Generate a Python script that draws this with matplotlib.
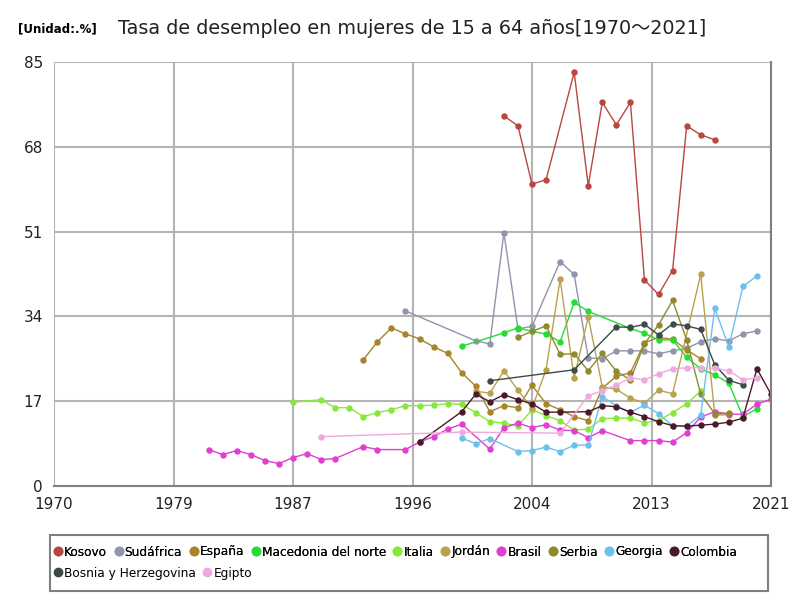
import matplotlib
matplotlib.use("Agg")
import matplotlib.pyplot as plt
from matplotlib.patches import Rectangle
from matplotlib.lines import Line2D

# ---- data ----
kosovo_years = [2002, 2003, 2004, 2005, 2007, 2008, 2009, 2010, 2011, 2012, 2013, 2014, 2015, 2016, 2017]
kosovo_vals = [74.2, 72.2, 60.5, 61.4, 82.9, 60.2, 76.9, 72.4, 76.9, 41.3, 38.4, 43.2, 72.2, 70.4, 69.4]

sudafrica_years = [1995, 2000, 2001, 2002, 2003, 2004, 2006, 2007, 2008, 2009, 2010, 2011, 2012, 2013,
                   2014, 2015, 2016, 2017, 2018, 2019, 2020]
sudafrica_vals = [35.1, 29.1, 28.5, 50.8, 31.5, 32.0, 45.0, 42.4, 25.7, 25.5, 27.1, 27.1, 27.1, 26.5,
                  27.1, 27.6, 28.9, 29.5, 29.1, 30.5, 31.1]

espana_years = list(range(1992, 2017))
espana_vals = [25.3, 28.9, 31.7, 30.5, 29.5, 27.9, 26.6, 22.7, 20.0, 14.9, 16.1, 15.7, 20.2, 16.5,
               15.3, 13.9, 13.1, 19.6, 22.0, 22.7, 28.7, 29.8, 29.4, 27.3, 25.5]

macedonia_years = [1999, 2002, 2003, 2004, 2005, 2006, 2007, 2008, 2011, 2012, 2013, 2014, 2015, 2016,
                   2017, 2018, 2019, 2020]
macedonia_vals = [28.0, 30.7, 31.7, 31.0, 30.5, 28.9, 36.8, 35.0, 31.6, 30.6, 29.3, 29.3, 25.8, 23.5,
                  22.3, 20.6, 13.9, 15.5]

italia_years = [1987] + list(range(1989, 2017))
italia_vals = [16.8, 17.3, 15.7, 15.7, 13.9, 14.7, 15.3, 16.1, 16.1, 16.2, 16.5, 16.4, 14.7, 12.9,
               12.6, 12.0, 15.3, 14.1, 13.1, 11.2, 11.4, 13.5, 13.6, 13.6, 12.7, 13.1, 14.7, 16.5, 19.0]

jordan_years = [2000, 2001, 2002, 2003, 2004, 2005, 2006, 2007, 2008, 2009, 2010, 2011, 2012, 2013,
                2014, 2016, 2017, 2018]
jordan_vals = [19.0, 18.6, 23.1, 19.2, 15.6, 23.3, 41.4, 21.7, 33.9, 19.9, 19.4, 17.6, 16.6, 19.2,
               18.5, 42.4, 14.2, 14.3]

brasil_years = [1981, 1982, 1983, 1984, 1985, 1986, 1987, 1988, 1989, 1990, 1992, 1993, 1995, 1996,
                1997, 1998, 1999, 2001, 2002, 2003, 2004, 2005, 2006, 2007, 2008, 2009, 2011, 2012,
                2013, 2014, 2015, 2016, 2017, 2018, 2019, 2020, 2021]
brasil_vals = [7.3, 6.3, 7.1, 6.3, 5.1, 4.5, 5.7, 6.5, 5.3, 5.5, 7.9, 7.3, 7.3, 8.8,
               9.9, 11.4, 12.4, 7.4, 11.7, 12.6, 11.7, 12.3, 11.2, 11.1, 9.7, 11.1, 9.1, 9.1,
               9.1, 8.8, 10.7, 13.8, 14.9, 14.4, 14.4, 16.4, 17.4]

serbia_years = list(range(2003, 2019))
serbia_vals = [29.8, 31.0, 32.1, 26.4, 26.5, 23.1, 26.6, 23.0, 21.3, 28.5, 32.3, 37.2, 29.3, 18.4,
               14.5, 14.6]

georgia_years = [1999, 2000, 2001, 2003, 2004, 2005, 2006, 2007, 2008, 2009, 2010, 2011, 2012, 2013,
                 2014, 2015, 2016, 2017, 2018, 2019, 2020]
georgia_vals = [9.6, 8.5, 9.5, 6.9, 7.1, 7.8, 6.9, 8.2, 8.2, 17.9, 16.1, 14.8, 16.2, 14.5,
                12.1, 12.0, 14.2, 35.6, 27.9, 40.0, 42.1]

colombia_years = [1996, 1999, 2000, 2001, 2002, 2003, 2004, 2005, 2006, 2008, 2009, 2010, 2011, 2012,
                  2013, 2014, 2015, 2016, 2017, 2018, 2019, 2020, 2021]
colombia_vals = [8.8, 14.9, 18.4, 16.9, 18.3, 17.3, 16.5, 14.8, 14.8, 14.9, 16.1, 15.9, 14.8, 13.9,
                 12.9, 12.1, 12.0, 12.2, 12.4, 12.8, 13.6, 23.5, 18.4]

bosnia_years = [2001, 2007, 2010, 2011, 2012, 2013, 2014, 2015, 2016, 2017, 2018, 2019]
bosnia_vals = [21.1, 23.3, 31.9, 31.8, 32.4, 30.3, 32.5, 32.1, 31.4, 24.3, 21.2, 20.3]

egipto_years = [1989, 1999, 2006, 2008, 2009, 2010, 2011, 2012, 2013, 2014, 2015, 2016, 2017, 2018,
                2019, 2020]
egipto_vals = [9.9, 10.8, 10.6, 18.1, 19.1, 20.2, 21.7, 21.3, 22.5, 23.5, 23.7, 23.7, 23.6, 23.1,
               21.3, 21.7]

series = [
    ("Kosovo", kosovo_years, kosovo_vals, "#b9473f"),
    ("Sudáfrica", sudafrica_years, sudafrica_vals, "#8f95aa"),
    ("España", espana_years, espana_vals, "#a8842a"),
    ("Macedonia del norte", macedonia_years, macedonia_vals, "#22dd33"),
    ("Italia", italia_years, italia_vals, "#88e83a"),
    ("Jordán", jordan_years, jordan_vals, "#b9a24c"),
    ("Brasil", brasil_years, brasil_vals, "#e03fd0"),
    ("Serbia", serbia_years, serbia_vals, "#8f8a30"),
    ("Georgia", georgia_years, georgia_vals, "#6cc0ee"),
    ("Colombia", colombia_years, colombia_vals, "#4a1a28"),
    ("Bosnia y Herzegovina", bosnia_years, bosnia_vals, "#3e4a48"),
    ("Egipto", egipto_years, egipto_vals, "#eeaadd"),
]

xtick_pos = [1970, 1978.5, 1987, 1995.5, 2004, 2012.5, 2021]
xtick_labels = ["1970", "1979", "1987", "1996", "2004", "2013", "2021"]
ytick_pos = [0, 17, 34, 51, 68, 85]

plt.rcParams['font.family'] = ['DejaVu Sans', 'Noto Sans CJK JP']

fig = plt.figure(figsize=(8, 6), dpi=100)
ax = fig.add_axes([54 / 800, 1 - 486 / 600, (771 - 54) / 800, (486 - 62) / 600])

handles = []
for name, xs, ys, col in series:
    ax.plot(xs, ys, color=col, lw=1.0, marker='o', ms=3.6, mec=col, mfc=col)
    handles.append(Line2D([], [], ls='none', marker='o', ms=6, color=col))

ax.set_xlim(1970, 2021)
ax.set_ylim(0, 85)
ax.set_xticks(xtick_pos)
ax.set_xticklabels(xtick_labels)
ax.set_yticks(ytick_pos)
ax.grid(True, color='#b4b4b4', lw=1.5)
ax.set_axisbelow(True)
for s in ['top', 'left']:
    ax.spines[s].set_visible(False)
for s in ['right', 'bottom']:
    ax.spines[s].set_color('#808080')
    ax.spines[s].set_linewidth(1.5)
ax.tick_params(axis='both', length=0, labelsize=11, colors='#222222', pad=8)

fig.text(18 / 800, 1 - 29 / 600, "[Unidad:.%]", fontsize=8.5, fontweight='bold', va='center', ha='left')
fig.text(412 / 800, 1 - 29 / 600, "Tasa de desempleo en mujeres de 15 a 64 años[1970～2021]",
         fontsize=13.8, va='center', ha='center', color='#222222')

# legend box
fig.patches.append(Rectangle((50 / 800, 1 - 591 / 600), (768 - 50) / 800, (591 - 535) / 600,
                             transform=fig.transFigure, fill=False, ec='#808080', lw=1.5))
names = [s[0] for s in series]
common = dict(frameon=False, fontsize=8.7, handlelength=0.6, handletextpad=0.2,
              columnspacing=0.65, borderaxespad=0, borderpad=0.2)
leg1 = fig.legend(handles[:10], names[:10], loc='center left', bbox_to_anchor=(52 / 800, 1 - 552 / 600),
                  ncol=10, **common)
leg2 = fig.legend(handles[10:], names[10:], loc='center left', bbox_to_anchor=(52 / 800, 1 - 573 / 600),
                  ncol=2, **common)
fig.add_artist(leg1)

fig.savefig("out.png", dpi=100)
